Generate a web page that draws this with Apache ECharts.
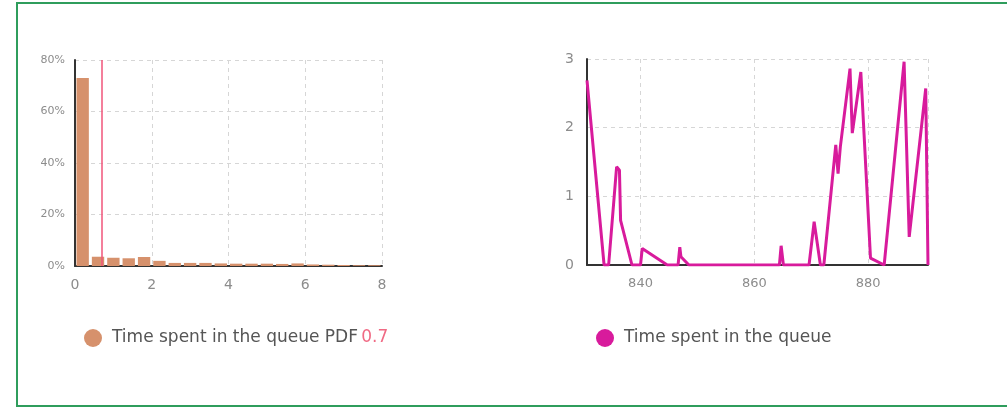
<!DOCTYPE html>
<html>
<head>
<meta charset="utf-8">
<script src="https://cdn.jsdelivr.net/npm/echarts@6/dist/echarts.min.js"></script>
<style>
html,body{margin:0;padding:0;background:#fff;}
#frame{position:absolute;left:16px;top:2px;width:1000px;height:401px;border-left:2px solid #2f9d5c;border-top:2px solid #2f9d5c;border-bottom:2px solid #2f9d5c;}
#chart{position:absolute;left:0;top:0;width:1007px;height:409px;}
</style>
</head>
<body>
<div id="frame"></div>
<div id="chart"></div>
<script>
// Histogram: bin edges (start, end) and percentages
const binStarts = [0,0.4,0.8,1.2,1.6,2.0,2.4,2.8,3.2,3.6,4.0,4.4,4.8,5.2,5.6,6.0,6.4,6.8,7.2,7.6];
const binEnds   = [0.4,0.8,1.2,1.6,2.0,2.4,2.8,3.2,3.6,4.0,4.4,4.8,5.2,5.6,6.0,6.4,6.8,7.2,7.6,8.0];
const binPercent = [73,3.6,3.2,3.0,3.5,2.0,1.2,1.2,1.2,1.0,0.9,0.9,0.9,0.8,1.0,0.6,0.5,0.4,0.3,0.3];
const markValue = 0.7;
const histXTicks = [0,2,4,6,8];
const histYTicks = [0,20,40,60,80];

// Time series: time and time spent in queue
const timeX = [830.6,833.6,834.4,835.8,836.3,836.5,838.5,840.0,840.3,844.7,846.6,846.9,847.1,848.5,864.4,864.7,865.1,869.6,870.5,871.6,872.2,874.3,874.7,875.1,876.8,877.2,878.7,880.4,882.8,886.3,887.2,890.1,890.5];
const queueY = [2.69,0,0,1.43,1.38,0.65,0,0,0.24,0,0,0.26,0.12,0,0,0.28,0,0,0.63,0,0,1.75,1.33,1.72,2.86,1.92,2.81,0.1,0,2.96,0.41,2.57,0];

const legendLeft = 'Time spent in the queue PDF';
const legendRight = 'Time spent in the queue';

const histData = binStarts.map((s, i) => [s, binEnds[i], binPercent[i]]);
const lineData = timeX.map((x, i) => [x, queueY[i]]);

const FONT = 'DejaVu Sans';
const labelStyle = {color:'#8c8c8c', fontSize:12, fontFamily:FONT};
const splitStyle = {show:true, lineStyle:{type:[4,4], color:'#d6d6d6', width:1}};
const axisLineStyle = {show:true, lineStyle:{color:'#333', width:2}};

const chart = echarts.init(document.getElementById('chart'), null, {renderer:'canvas'});
chart.setOption({
  animation:false,
  backgroundColor:'transparent',
  grid:[
    {left:75, top:60, width:307, height:206},
    {left:587, top:59, width:341, height:206}
  ],
  xAxis:[
    {type:'value', gridIndex:0, min:histXTicks[0], max:histXTicks[histXTicks.length-1], interval:2,
     axisLine:axisLineStyle, axisTick:{show:false}, splitLine:splitStyle,
     axisLabel:Object.assign({}, labelStyle, {margin:12, fontSize:14})},
    {type:'value', gridIndex:1, min:timeX[0], max:timeX[timeX.length-1], splitNumber:3,
     axisLine:axisLineStyle, axisTick:{show:false}, splitLine:splitStyle,
     axisLabel:Object.assign({}, labelStyle, {margin:12, fontSize:13, showMinLabel:false, showMaxLabel:false})}
  ],
  yAxis:[
    {type:'value', gridIndex:0, min:histYTicks[0], max:histYTicks[histYTicks.length-1], interval:20,
     axisLine:axisLineStyle, axisTick:{show:false}, splitLine:splitStyle,
     axisLabel:Object.assign({}, labelStyle, {margin:10, fontSize:11, formatter:'{value}%'})},
    {type:'value', gridIndex:1, min:0, max:3, interval:1,
     axisLine:axisLineStyle, axisTick:{show:false}, splitLine:splitStyle,
     axisLabel:Object.assign({}, labelStyle, {margin:13, fontSize:14})}
  ],
  legend:[
    {data:[legendLeft], left:79, top:324, icon:'circle', itemWidth:18, itemHeight:18,
     formatter: name => '{a|' + name + '} {v|' + markValue + '}',
     textStyle:{padding:[0,0,0,5], rich:{a:{color:'#555', fontSize:17, fontFamily:FONT}, v:{color:'#f06a84', fontSize:17, fontFamily:FONT}}}},
    {data:[legendRight], left:591, top:324, icon:'circle', itemWidth:18, itemHeight:18,
     textStyle:{color:'#555', fontSize:17, fontFamily:FONT, padding:[0,0,0,5]}}
  ],
  series:[
    {name:legendLeft, type:'custom', xAxisIndex:0, yAxisIndex:0,
     itemStyle:{color:'#d6916c'},
     encode:{x:[0,1], y:2},
     data:histData,
     renderItem:function(params, api){
       const p0 = api.coord([api.value(0), api.value(2)]);
       const p1 = api.coord([api.value(1), 0]);
       const gap = 1.5;
       return {type:'rect', shape:{x:p0[0]+gap, y:p0[1], width:Math.max(p1[0]-p0[0]-2*gap,1), height:p1[1]-p0[1]},
               style:{fill:'#d6916c'}};
     },
     markLine:{silent:true, symbol:['none','none'], label:{show:false},
       lineStyle:{color:'#f0557a', width:1.5, type:'solid'},
       data:[{xAxis:markValue}]}
    },
    {name:legendRight, type:'line', xAxisIndex:1, yAxisIndex:1, data:lineData,
     showSymbol:false, lineStyle:{color:'#d81b9c', width:3}, itemStyle:{color:'#d81b9c'}}
  ]
});
</script>
</body>
</html>
